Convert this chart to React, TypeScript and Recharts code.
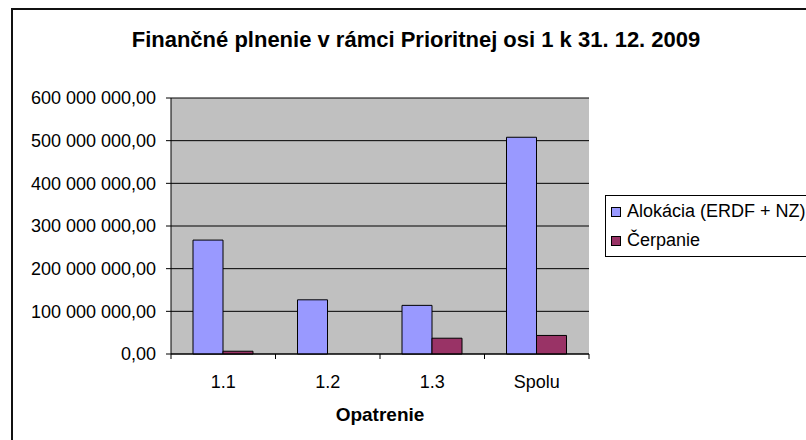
import {
  BarChart,
  Bar,
  XAxis,
  YAxis,
  CartesianGrid,
  Legend,
} from 'recharts'

// ---------------------------------------------------------------------------
// Data
// ---------------------------------------------------------------------------

const categories = ['1.1', '1.2', '1.3', 'Spolu']
const alokacia = [267000000, 127000000, 114000000, 508000000]
const cerpanie = [6500000, 0, 37000000, 43500000]
const yTicks = [0, 100000000, 200000000, 300000000, 400000000, 500000000, 600000000]

const SERIES_A = 'Alokácia (ERDF + NZ)'
const SERIES_B = 'Čerpanie'

const data = categories.map((name, i) => ({
  name,
  alokacia: alokacia[i],
  cerpanie: cerpanie[i],
}))

const FONT = '"Liberation Sans", Arial, sans-serif'
const TICK_SIZE = 5
const X_TICK_MARGIN = 16

// 600000000 -> "600 000 000,00"
function fmtSk(n: number) {
  const [int, dec] = n.toFixed(2).split('.')
  return `${int.replace(/\B(?=(\d{3})+(?!\d))/g, ' ')},${dec}`
}

// ---------------------------------------------------------------------------
// Category tick: label in the middle, tick marks on the band edges (Excel style)
// ---------------------------------------------------------------------------

function CategoryTick(props: any) {
  const { x, y, payload, index, visibleTicksCount } = props
  const half = payload?.offset ?? 0
  const axisY = y - TICK_SIZE - X_TICK_MARGIN
  return (
    <g>
      <line x1={x - half} x2={x - half} y1={axisY} y2={axisY + TICK_SIZE} stroke="#000" />
      {index === visibleTicksCount - 1 && (
        <line x1={x + half} x2={x + half} y1={axisY} y2={axisY + TICK_SIZE} stroke="#000" />
      )}
      <text x={x} y={y} dy="0.71em" textAnchor="middle" fontSize={18} fill="#000">
        {payload.value}
      </text>
    </g>
  )
}

// ---------------------------------------------------------------------------
// Legend box
// ---------------------------------------------------------------------------

function LegendBox({ payload }: any) {
  return (
    <div
      style={{
        border: '1px solid #000',
        background: '#fff',
        padding: '1px 0',
        width: 260,
        fontFamily: FONT,
      }}
    >
      {(payload ?? []).map((item: any) => (
        <div
          key={item.value}
          style={{
            height: 29,
            display: 'flex',
            alignItems: 'center',
            whiteSpace: 'nowrap',
            fontSize: 18,
            color: '#000',
          }}
        >
          <span
            style={{
              display: 'inline-block',
              width: 8,
              height: 8,
              border: '1px solid #000',
              background: item.color,
              marginLeft: 5,
              marginRight: 6,
            }}
          />
          {item.value}
        </div>
      ))}
    </div>
  )
}

// ---------------------------------------------------------------------------
// App
// ---------------------------------------------------------------------------

export default function App() {
  return (
    <div
      style={{
        position: 'fixed',
        left: 0,
        top: 0,
        width: 806,
        height: 440,
        overflow: 'hidden',
        background: '#fff',
        fontFamily: FONT,
      }}
    >
      {/* chart area frame, runs off the right and bottom edge */}
      <div
        style={{
          position: 'absolute',
          left: 11,
          top: 8,
          width: 900,
          height: 500,
          border: '2px solid #111',
        }}
      />

      {/* title */}
      <div
        style={{
          position: 'absolute',
          left: 0,
          top: 27,
          width: 832,
          textAlign: 'center',
          fontSize: 22,
          fontWeight: 'bold',
          lineHeight: '26px',
          color: '#000',
        }}
      >
        Finančné plnenie v rámci Prioritnej osi 1 k 31. 12. 2009
      </div>

      <div style={{ position: 'absolute', left: 0, top: 0 }}>
        <BarChart
          width={806}
          height={440}
          data={data}
          margin={{ top: 98, right: 217, bottom: 46, left: 11 }}
          barSize={30}
          barGap={0}
        >
          <CartesianGrid
            vertical={false}
            stroke="#000"
            fill="#C0C0C0"
            fillOpacity={1}
          />
          <XAxis
            dataKey="name"
            height={40}
            tickSize={TICK_SIZE}
            tickMargin={X_TICK_MARGIN}
            tickLine={false}
            axisLine={{ stroke: '#000' }}
            tick={<CategoryTick />}
            interval={0}
            label={{
              value: 'Opatrenie',
              position: 'bottom',
              offset: 14,
              fill: '#000',
              fontSize: 19,
              fontWeight: 'bold',
            }}
          />
          {/* plot area border: top */}
          <XAxis
            xAxisId="top"
            dataKey="name"
            orientation="top"
            height={0}
            tick={false}
            tickLine={false}
            axisLine={{ stroke: '#808080' }}
          />
          <YAxis
            width={160}
            domain={[0, 600000000]}
            ticks={yTicks}
            interval={0}
            tickFormatter={fmtSk}
            tickSize={TICK_SIZE}
            tickMargin={10}
            tick={{ fontSize: 18, fill: '#000' }}
            tickLine={{ stroke: '#000' }}
            axisLine={{ stroke: '#000' }}
          />
          {/* plot area border: right */}
          <YAxis
            yAxisId="right"
            orientation="right"
            width={0}
            tick={false}
            tickLine={false}
            axisLine={{ stroke: '#808080' }}
          />
          <Legend
            layout="vertical"
            align="center"
            verticalAlign="middle"
            content={<LegendBox />}
            wrapperStyle={{ left: 605, top: 195, width: 260, height: 'auto' }}
          />
          <Bar
            dataKey="alokacia"
            name={SERIES_A}
            fill="#9999FF"
            stroke="#000"
            strokeWidth={1}
            isAnimationActive={false}
          />
          <Bar
            dataKey="cerpanie"
            name={SERIES_B}
            fill="#993366"
            stroke="#000"
            strokeWidth={1}
            isAnimationActive={false}
          />
        </BarChart>
      </div>
    </div>
  )
}
